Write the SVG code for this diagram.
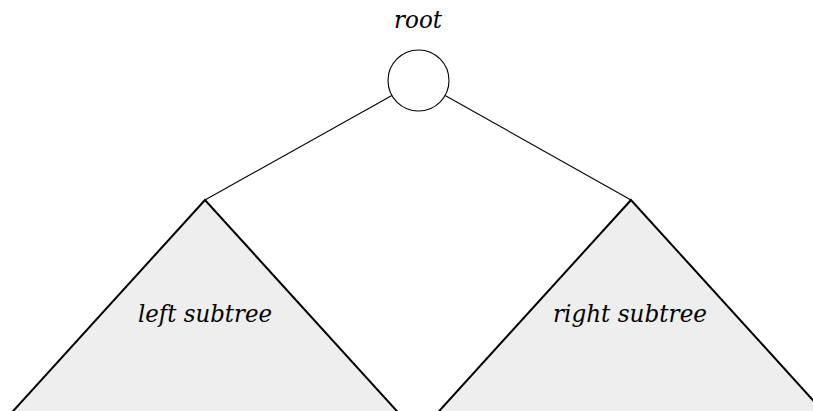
<svg xmlns="http://www.w3.org/2000/svg" width="813" height="411" viewBox="0 0 813 411">
<style>
.sub{fill:#eeeeee;stroke:#000;stroke-width:2;stroke-linejoin:miter}
.edge{stroke:#000;stroke-width:1.1;fill:none}
.lbl{font-family:"DejaVu Serif","Liberation Serif",serif;font-style:italic;font-size:24px;fill:#000;text-anchor:middle}
</style>
<rect width="813" height="411" fill="#fff"/>
<g id="connectors">
<line class="edge" x1="391.9" y1="95.4" x2="205" y2="200"/>
<line class="edge" x1="445.1" y1="95.5" x2="631" y2="200"/>
</g>
<g id="root">
<circle cx="418.5" cy="80.5" r="30.5" fill="#fff" stroke="#000" stroke-width="1.1"/>
<text class="lbl" x="418" y="28" textLength="48" lengthAdjust="spacingAndGlyphs">root</text>
</g>
<g id="left-subtree">
<polygon class="sub" points="205,200 5,420 405,420"/>
<text class="lbl" x="205" y="322" textLength="134" lengthAdjust="spacingAndGlyphs">left subtree</text>
</g>
<g id="right-subtree">
<polygon class="sub" points="631,200 431,420 831,420"/>
<text class="lbl" x="630" y="322" textLength="154" lengthAdjust="spacingAndGlyphs">right subtree</text>
</g>
</svg>
